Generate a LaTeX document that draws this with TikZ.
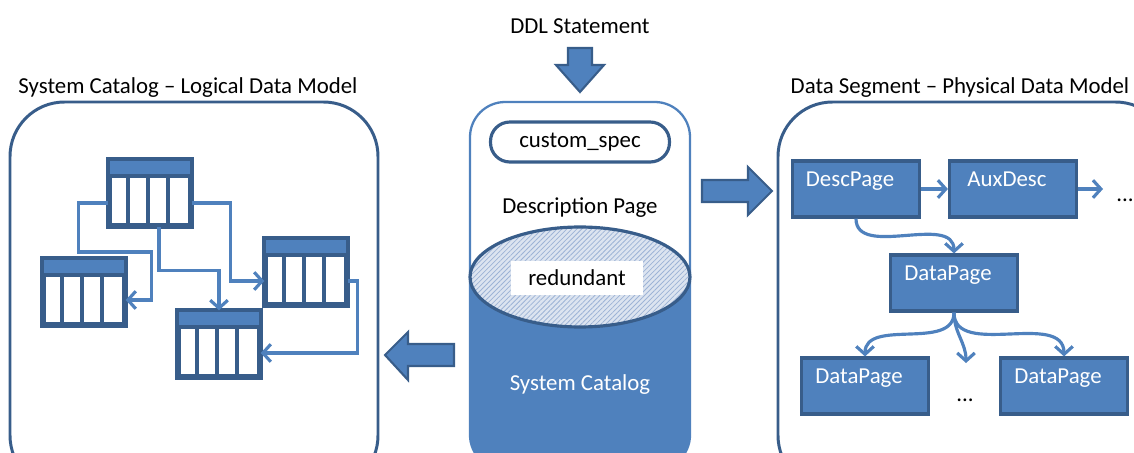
\documentclass[tikz,border=0pt]{standalone}
\usepackage{fontspec}
\setmainfont{Carlito}
\usetikzlibrary{arrows.meta,patterns.meta}

\definecolor{catblue}{HTML}{4F81BD}
\definecolor{catdark}{HTML}{385D8A}
\definecolor{hatchbg}{HTML}{DCE4F0}
\definecolor{hatchln}{HTML}{9DB3D6}

\tikzset{
  panel/.style={draw=catdark,line width=1.7pt,rounded corners=31pt},
  bigarrow/.style={fill=catblue,draw=catdark,line width=1.2pt},
  link/.style={draw=catblue,line width=1.8pt,
    -{Straight Barb[length=4.5pt,width=10pt,line width=1.8pt]}},
  tbl/.style={draw=catdark,line width=2pt,fill=white,
    minimum width=1.6cm,minimum height=1.28cm,inner sep=0pt},
  pagebox/.style={draw=catdark,fill=catblue,line width=1.8pt,
    minimum width=2.54cm,minimum height=1.12cm,inner sep=0pt},
  pagetext/.style={anchor=base,text=white,font=\fontsize{13}{15}\selectfont,
    yshift=-0.54cm,xshift=-0.12cm},
}

% a catalog table: header band and four columns
\newcommand\sctable[3]{%
  \node[tbl] (#1) at (#2,#3) {};
  \fill[catblue] (#1.north west) rectangle ([yshift=-0.34cm]#1.north east);
  \foreach \k in {1,2,3}
    \draw[catdark,line width=2pt] ([xshift=\k*0.4cm,yshift=-0.34cm]#1.north west)
      -- ([xshift=\k*0.4cm]#1.south west);
  \draw[catdark,line width=2pt] ([yshift=-0.34cm]#1.north west)
    -- ([yshift=-0.34cm]#1.north east);
  \draw[catdark,line width=2pt] (#1.north west) rectangle (#1.south east);
}

\begin{document}
\begin{tikzpicture}[x=0.02cm,y=-0.02cm,font=\fontsize{13}{15}\selectfont]
\useasboundingbox (0,0) rectangle (1134,453);
\clip (0,0) rectangle (1134,453);

% titles
\node[anchor=base] (ddl) at (580,33) {DDL Statement};
\node[anchor=base] (ltitle) at (188,93) {System Catalog -- Logical Data Model};
\node[anchor=base] (rtitle) at (960,93) {Data Segment -- Physical Data Model};

% panels
\draw[panel] (10,102) rectangle (378,490);
\draw[panel] (778,102) rectangle (1170,490);

% big arrows
\draw[bigarrow] (568,48) -- (592,48) -- (592,65) -- (604,65) -- (580,92)
  -- (556,65) -- (568,65) -- cycle;
\draw[bigarrow] (454,344) -- (408,344) -- (408,332) -- (385,355) -- (408,380)
  -- (408,366) -- (454,366) -- cycle;
\draw[bigarrow] (702,180) -- (748,180) -- (748,167) -- (772,191) -- (748,215)
  -- (748,202) -- (702,202) -- cycle;

% system catalog cylinder
\begin{scope}
  \clip[rounded corners=20pt] (470,102) rectangle (690,470);
  \fill[catblue] (470,277) rectangle (690,470);
\end{scope}
\draw[catblue,line width=1.3pt,rounded corners=20pt] (470,102) rectangle (690,470);
\fill[hatchbg] (580,277) ellipse [x radius=2.2cm,y radius=1cm];
\fill[pattern={Lines[angle=45,distance=2pt,line width=0.45pt]},pattern color=hatchln]
  (580,277) ellipse [x radius=2.2cm,y radius=1cm];
\draw[catdark,line width=1.8pt] (580,277) ellipse [x radius=2.2cm,y radius=1cm];
\node[draw=catdark,line width=1.8pt,rounded corners=11pt,minimum width=3.58cm,
  minimum height=0.8cm] (spec) at (580,142) {custom\_spec};
\node[anchor=base] (descp) at (580,213) {Description Page};
\node[fill=white,minimum width=2.64cm,minimum height=0.7cm] (redund) at (577,278) {redundant};
\node[anchor=base,text=white] (syscat) at (580,390) {System Catalog};

% logical tables
\sctable{t1}{150}{193}
\sctable{t2}{84}{292}
\sctable{t3}{219}{344}
\sctable{t4}{306}{272}
\draw[link] ([yshift=-0.2cm]t1.west) -- ++(-30,0) -- ++(0,49) -- ++(73,0)
  |- ([yshift=-0.16cm]t2.east);
\draw[link] ([xshift=0.18cm]t1.south) -- ++(0,44) -| (t3.north);
\draw[link] ([yshift=-0.2cm]t1.east) -- ++(39,0) |- ([yshift=-0.18cm]t4.west);
\draw[link] ([yshift=-0.18cm]t4.east) -- ++(10,0) |- ([yshift=-0.18cm]t3.east);

% physical pages
\node[pagebox,label={[pagetext]north:DescPage}] (desc) at (856,189) {};
\node[pagebox,label={[pagetext]north:AuxDesc}] (aux) at (1013,189) {};
\node[pagebox,label={[pagetext]north:DataPage}] (mid) at (954,283) {};
\node[pagebox,label={[pagetext]north:DataPage}] (dleft) at (865,386) {};
\node[pagebox,label={[pagetext]north:DataPage}] (dright) at (1064,386) {};
\coordinate (more) at (1103,189);
\coordinate (down) at (966,363);
\node[anchor=base west,inner sep=0pt] (dots1) at (1116,201) {...};
\node[anchor=base] (dots2) at (965,401) {...};
\draw[link] (desc.east) -- (aux.west);
\draw[link] (aux.east) -- (more);
\draw[link] (desc.south) to[out=-90,in=90] (mid.north);
\draw[link] (mid.south) to[out=-90,in=90] (dleft.north);
\draw[link] (mid.south) to[out=-90,in=90] (down);
\draw[link] (mid.south) to[out=-90,in=90] (dright.north);
\end{tikzpicture}
\end{document}
